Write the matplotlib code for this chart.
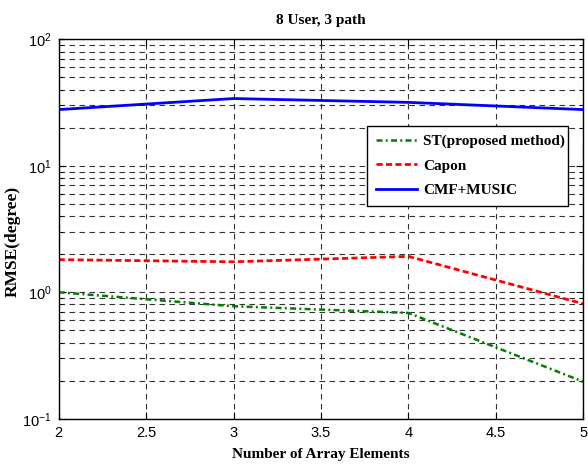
import matplotlib
matplotlib.use("Agg")
import matplotlib.pyplot as plt
from matplotlib.ticker import LogLocator, NullFormatter, FixedLocator

# values
n_elements = [2, 3, 4, 5]
rmse_st = [1.0, 0.775, 0.686, 0.196]
rmse_capon = [1.81, 1.74, 1.92, 0.81]
rmse_cmf_music = [27.8, 34.0, 31.7, 27.8]

x_ticks = [2, 2.5, 3, 3.5, 4, 4.5, 5]
x_tick_labels = ["2", "2.5", "3", "3.5", "4", "4.5", "5"]

tick_font = ["Liberation Sans", "DejaVu Sans"]
label_font = ["Liberation Serif", "DejaVu Serif"]

fig = plt.figure(figsize=(5.88, 4.66), dpi=100)
ax = fig.add_axes([0.0998, 0.1015, 0.8922, 0.8142])

ax.plot(n_elements, rmse_st, color="#007f00", linestyle="-.", linewidth=1.8,
        dashes=(2.4, 1.3, 0.8, 1.3), label="ST(proposed method)")
ax.plot(n_elements, rmse_capon, color="red", linestyle="--", linewidth=2.0,
        dashes=(2.2, 1.2), label="Capon")
ax.plot(n_elements, rmse_cmf_music, color="blue", linestyle="-", linewidth=2.0,
        label="CMF+MUSIC")

ax.set_yscale("log")
ax.set_xlim(2, 5)
ax.set_ylim(0.1, 100)

ax.xaxis.set_major_locator(FixedLocator(x_ticks))
ax.set_xticklabels(x_tick_labels, family=tick_font, fontsize=10.5)
ax.yaxis.set_major_locator(LogLocator(base=10, numticks=10))
ax.yaxis.set_minor_locator(LogLocator(base=10, subs=range(2, 10), numticks=20))
ax.yaxis.set_minor_formatter(NullFormatter())
for lab in ax.get_yticklabels():
    lab.set_family(tick_font)
    lab.set_fontsize(10.5)

ax.tick_params(which="both", direction="in", top=True, right=True)
ax.tick_params(which="major", length=5, pad=5)
ax.tick_params(which="minor", length=3)

grid_style = dict(color="#333333", linestyle=(0, (5, 4)), linewidth=0.8)
ax.grid(True, which="major", axis="both", **grid_style)
ax.grid(True, which="minor", axis="y", **grid_style)
for sp in ax.spines.values():
    sp.set_linewidth(1.0)

ax.set_title("8 User, 3 path", family=label_font, fontweight="bold",
             fontsize=11, pad=11)
ax.set_xlabel("Number of Array Elements", family=label_font, fontweight="bold",
              fontsize=11, labelpad=6)
ax.set_ylabel("RMSE(degree)", family=label_font, fontweight="bold",
              fontsize=12.5)
ax.yaxis.set_label_coords(-0.072, 0.467)

leg = ax.legend(loc="upper left", bbox_to_anchor=(0.588, 0.5546, 0.382, 0.2164),
                mode="expand", borderaxespad=0, fancybox=False, framealpha=1,
                edgecolor="black", handlelength=2.7, handletextpad=0.4,
                borderpad=0.55, labelspacing=0.7,
                prop={"family": label_font, "weight": "bold", "size": 11})
leg.get_frame().set_linewidth(1.0)

fig.savefig("out.png", dpi=100)
